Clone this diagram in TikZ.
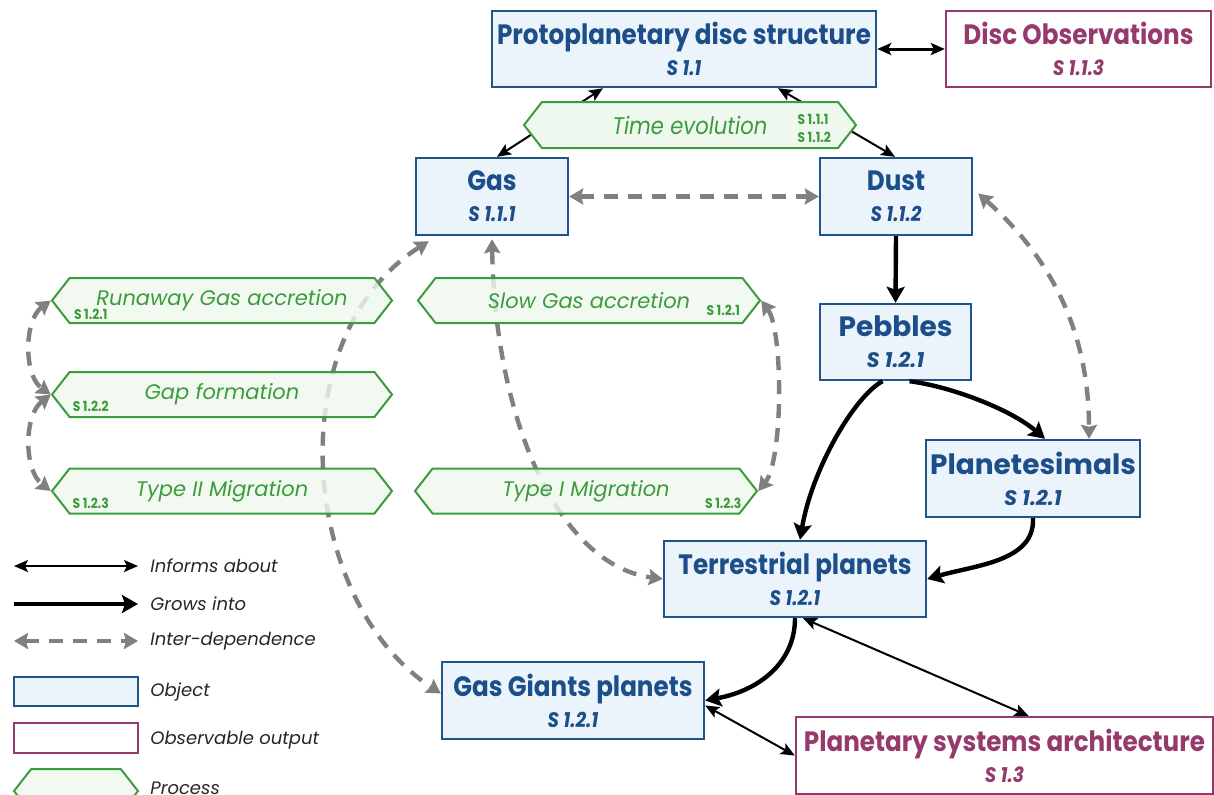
\documentclass[tikz,border=0pt]{standalone}
\usepackage{fontspec}
\setmainfont{Poppins}
\newfontfamily\condfont[FakeStretch=0.88]{Poppins}
\usetikzlibrary{arrows.meta, positioning, shapes.symbols}
\definecolor{objblue}{RGB}{31,84,140}
\definecolor{objtext}{RGB}{28,78,138}
\definecolor{objfill}{RGB}{235,243,251}
\definecolor{obspurple}{RGB}{150,58,110}
\definecolor{procgreen}{RGB}{60,155,60}
\definecolor{procfill}{RGB}{238,248,238}
\definecolor{depgray}{RGB}{128,128,128}
\newcommand\sectag[1]{{\fontsize{10.5}{11}\selectfont\itshape #1}}
\tikzset{
    >={Stealth[length=7pt,width=6pt,inset=1.5pt]}, % default arrow heads
    object/.style={draw=objblue, fill=objfill, line width=1.2pt, text=objtext, align=center, inner sep=2pt, font=\condfont\fontsize{14}{15}\selectfont\bfseries}, % boxes for objects
    output/.style={object, draw=obspurple, fill=white, text=obspurple}, % observable outputs
    process/.style={signal, signal to=west and east, signal pointer angle=104, draw=procgreen, fill=procfill, fill opacity=0.8, text opacity=1, line width=1pt, text=procgreen, minimum height=22.5pt, inner sep=0pt, font=\fontsize{10.5}{12}\selectfont\itshape}, % hexagons
    seclbl/.style={text=procgreen, font=\condfont\fontsize{7}{9}\selectfont\bfseries, inner sep=0pt, align=left},
    informs/.style={<->, line width=1pt},
    grows/.style={>={Stealth[length=8pt,width=9pt,inset=1.5pt]}, ->, line width=2.2pt},
    interdep/.style={>={Stealth[length=7pt,width=8pt,inset=1pt]}, <->, draw=depgray, line width=2.2pt, dash pattern=on 7pt off 5pt},
    legtext/.style={anchor=west, font=\fontsize{9}{11}\selectfont\itshape, text=black!85, inner sep=0pt},
}
\begin{document}
\begin{tikzpicture}[x=0.5pt, y=-0.5pt]
\useasboundingbox (0,0) rectangle (1214,794);
% objects
\node[object, minimum width=192pt, minimum height=38pt] (pds) at (684,49) {Protoplanetary disc structure\\[0.5pt]\sectag{S 1.1}};
\node[output, minimum width=132.5pt, minimum height=38pt] (obs) at (1078.5,49) {Disc Observations\\[0.5pt]\sectag{S 1.1.3}};
\node[object, minimum width=76pt, minimum height=38.5pt] (gas) at (492,196.5) {Gas\\[0.5pt]\sectag{S 1.1.1}};
\node[object, minimum width=76pt, minimum height=38.5pt] (dust) at (896,196.5) {Dust\\[0.5pt]\sectag{S 1.1.2}};
\node[object, minimum width=75.5pt, minimum height=38pt, font=\fontsize{14}{15}\selectfont\bfseries] (peb) at (895.5,342) {Pebbles\\[0.5pt]\sectag{S 1.2.1}};
\node[object, minimum width=106pt, minimum height=38.5pt, font=\fontsize{14}{15}\selectfont\bfseries] (plts) at (1033,478.5) {Planetesimals\\[0.5pt]\sectag{S 1.2.1}};
\node[object, minimum width=131pt, minimum height=38pt] (terr) at (795,579) {Terrestrial planets\\[0.5pt]\sectag{S 1.2.1}};
\node[object, minimum width=131pt, minimum height=38.5pt] (giant) at (573,700.5) {Gas Giants planets\\[0.5pt]\sectag{S 1.2.1}};
\node[output, minimum width=208.5pt, minimum height=38.5pt] (arch) at (1004.5,755.5) {Planetary systems architecture\\[0.5pt]\sectag{S 1.3}};

% links running behind the processes
\draw[informs] ([xshift=-40.5pt]pds.south) -- ([xshift=2.5pt]gas.north);
\draw[informs] ([xshift=47pt]pds.south) -- ([xshift=-0.5pt]dust.north);
\draw[interdep] ([yshift=-1.5pt]gas.south) .. controls +(3,182) and +(-104,-14) .. (terr.west);
\draw[interdep] ([xshift=7pt,yshift=-2.5pt]gas.south west) .. controls +(-150,95) and +(-142,-93.5) .. ([yshift=3.5pt]giant.west);

% processes
\node[process, minimum width=166pt, minimum height=23pt, fill opacity=1, font=\condfont\fontsize{12}{13}\selectfont\itshape] (tevo) at (690,125) {Time evolution};
\node[seclbl, font=\condfont\fontsize{7}{9}\selectfont\bfseries] (tevoS) at ([shift={(-21.5pt,-1.5pt)}]tevo.east) {S 1.1.1\\S 1.1.2};
\node[process, minimum width=170pt] (run) at (222,300.5) {Runaway Gas accretion};
\node[seclbl] (runS) at ([shift={(20pt,-7pt)}]run.west) {S 1.2.1};
\node[process, minimum width=171pt] (slow) at (589,300.5) {Slow Gas accretion};
\node[seclbl] (slowS) at ([shift={(-19pt,-5pt)}]slow.east) {S 1.2.1};
\node[process, minimum width=170pt] (gap) at (222,394.5) {Gap formation};
\node[seclbl] (gapS) at ([shift={(20pt,-5.75pt)}]gap.west) {S 1.2.2};
\node[process, minimum width=170pt] (typ2) at (222,491) {Type II Migration};
\node[seclbl] (typ2S) at ([shift={(20pt,-6pt)}]typ2.west) {S 1.2.3};
\node[process, minimum width=171pt] (typ1) at (586,491) {Type I Migration};
\node[seclbl] (typ1S) at ([shift={(-17.5pt,-6pt)}]typ1.east) {S 1.2.3};

% inter-dependences
\draw[interdep] (gas.east) -- (dust.west);
\draw[interdep] ([xshift=2.5pt,yshift=1.5pt]dust.east) .. controls +(70,61.5) and +(0,-110) .. ([xshift=28pt]plts.north);
\draw[interdep] (run.west) .. controls +(-27,20) and +(-27,-19) .. (gap.west);
\draw[interdep] (gap.west) .. controls +(-27,21) and +(-27,-21) .. (typ2.west);
\draw[interdep] (slow.east) .. controls +(22,30) and +(25,-31) .. (typ1.east);

% growth
\draw[grows] (dust.south) -- (peb.north);
\draw[grows] ([xshift=7pt]peb.south) .. controls +(40,5) and +(-35,-30) .. ([xshift=6pt]plts.north);
\draw[grows] ([xshift=-6.5pt]peb.south) .. controls +(-28,15) and +(12,-71) .. ([xshift=2.5pt]terr.north);
\draw[grows] (plts.south) .. controls +(2,43) and +(49,-14) .. (terr.east);
\draw[grows] (terr.south) .. controls +(0,43) and +(56,-10.5) .. (giant.east);

% informs about
\draw[informs, line width=1.5pt] (pds.east) -- (obs.west);
\draw[informs] ([xshift=4pt]terr.south) -- ([xshift=12pt]arch.north);
\draw[informs] ([yshift=-2.5pt]giant.east) -- (arch.west);

% legend
\coordinate (infA) at (14,566);
\node[legtext] (infT) at (150,566) {Informs about};
\draw[informs] (infA) -- ([xshift=-6pt]infT.west);
\coordinate (groA) at (14,604);
\node[legtext] (groT) at (150,604) {Grows into};
\draw[grows] (groA) -- ([xshift=-6pt]groT.west);
\coordinate (depA) at (14,641);
\node[legtext] (depT) at (150,641) {Inter-dependence};
\draw[interdep] (depA) -- ([xshift=-6pt]depT.west);
\node[object, minimum width=62pt, minimum height=14.5pt] (legObj) at (76,691.5) {};
\node[legtext] (objT) at (150,692) {Object};
\node[output, minimum width=62pt, minimum height=15pt] (legOut) at (76,738) {};
\node[legtext] (outT) at (150,740) {Observable output};
\node[process, minimum width=62pt, minimum height=22pt] (legProc) at (76,791) {};
\node[legtext] (procT) at (150,788) {Process};
\end{tikzpicture}
\end{document}
